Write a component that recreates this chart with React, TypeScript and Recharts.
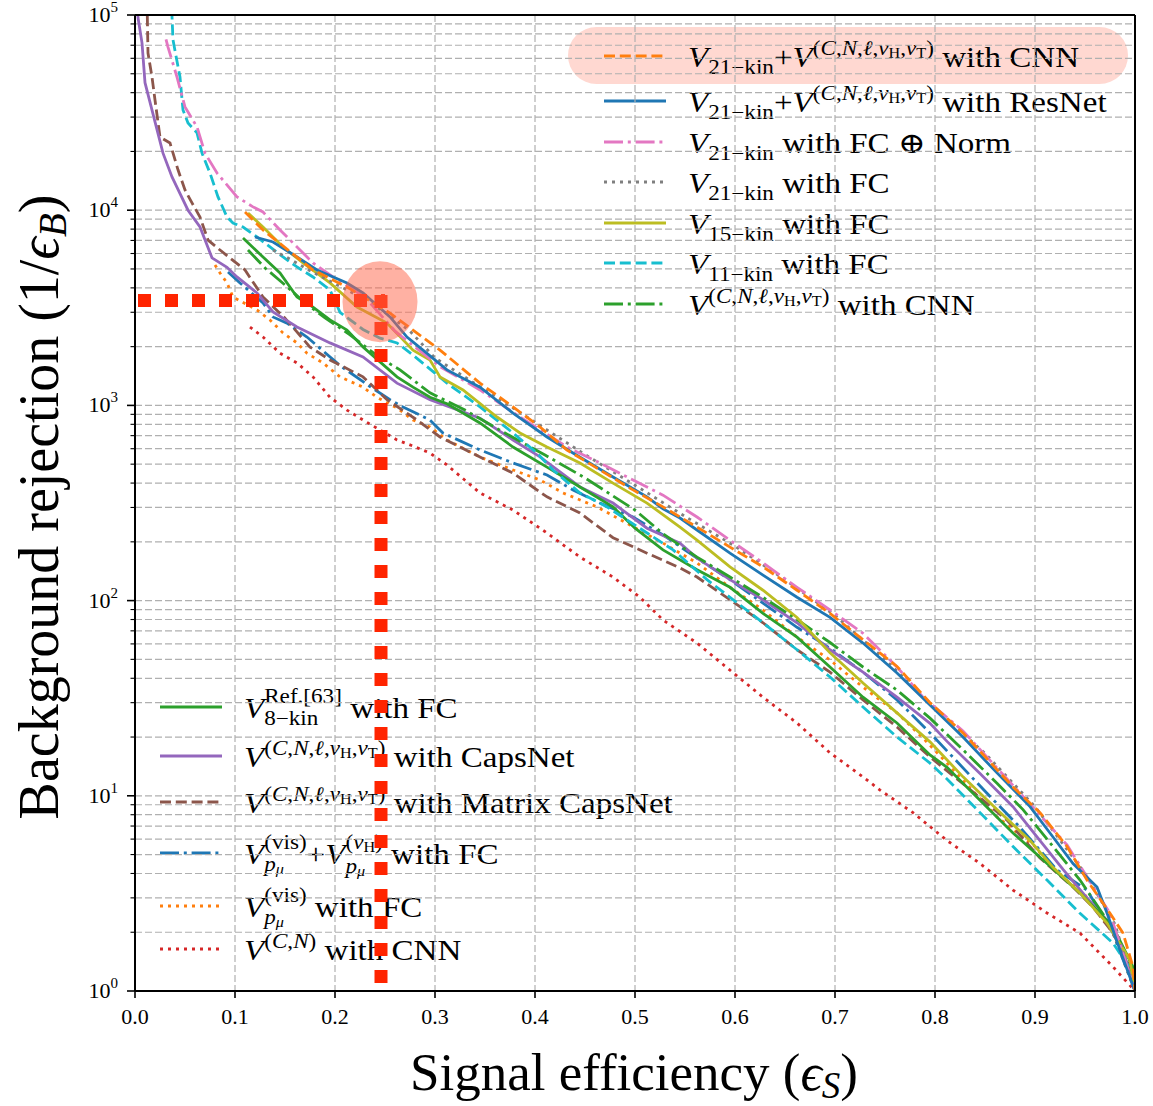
import React from 'react'
import { ComposedChart, Line, XAxis, YAxis, CartesianGrid, ReferenceLine } from 'recharts'

type Pt = [number, number]

// ROC curves: [signal efficiency, background rejection]
const cnnCombined: Pt[] = [[0.11, 9790], [0.128, 7920], [0.178, 4940], [0.212, 4040], [0.255, 2970], [0.278, 2430], [0.305, 1920], [0.345, 1300], [0.378, 982], [0.405, 775], [0.432, 591], [0.465, 467], [0.498, 369], [0.528, 302], [0.562, 238], [0.595, 188], [0.628, 149], [0.662, 113], [0.695, 86], [0.728, 63], [0.762, 46], [0.795, 30], [0.828, 21], [0.878, 11.1], [0.905, 8.2], [0.932, 5.5], [0.952, 3.7], [0.975, 2.5], [0.988, 1.98], [0.998, 1.33], [1, 1]]
const resNet: Pt[] = [[0.12, 7290], [0.138, 6870], [0.162, 5760], [0.182, 4940], [0.212, 4240], [0.228, 3770], [0.255, 2840], [0.272, 2240], [0.288, 1920], [0.312, 1520], [0.345, 1240], [0.378, 914], [0.412, 689], [0.438, 570], [0.478, 430], [0.512, 340], [0.528, 295], [0.545, 265], [0.562, 230], [0.595, 175], [0.628, 135], [0.662, 104], [0.695, 82], [0.728, 60.6], [0.762, 42.6], [0.795, 29.2], [0.828, 20], [0.862, 13.1], [0.895, 8.8], [0.918, 6.15], [0.938, 4.5], [0.962, 3.41], [0.972, 2.51], [0.985, 1.62], [1, 1]]
const kin21Norm: Pt[] = [[0.031, 75000], [0.033, 68500], [0.042, 48100], [0.05, 33800], [0.062, 26700], [0.07, 19600], [0.082, 15500], [0.102, 11700], [0.118, 10400], [0.128, 9790], [0.145, 7920], [0.162, 6480], [0.178, 5370], [0.198, 4550], [0.23, 3590], [0.26, 2400], [0.285, 1900], [0.305, 1580], [0.345, 1200], [0.385, 872], [0.432, 612], [0.465, 507], [0.492, 430], [0.528, 347], [0.562, 268], [0.595, 204], [0.628, 156], [0.662, 117], [0.695, 89.5], [0.728, 68], [0.762, 45.7], [0.788, 32], [0.828, 21.5], [0.878, 11.3], [0.932, 5.6], [0.975, 2.5], [1, 1]]
const kin21: Pt[] = [[0.138, 6250], [0.15, 5800], [0.175, 4900], [0.2, 4200], [0.225, 3600], [0.25, 3000], [0.275, 2400], [0.3, 1750], [0.35, 1200], [0.4, 820], [0.45, 560], [0.5, 390], [0.55, 270], [0.6, 190], [0.65, 128], [0.7, 84], [0.75, 50], [0.8, 28], [0.85, 16.5], [0.9, 8.8], [0.95, 4.0], [0.98, 2.2], [1, 1]]
const kin15: Pt[] = [[0.113, 9680], [0.128, 8200], [0.148, 6480], [0.168, 5370], [0.195, 4240], [0.222, 3190], [0.252, 2640], [0.278, 1920], [0.295, 1710], [0.305, 1400], [0.328, 1200], [0.362, 872], [0.385, 722], [0.412, 612], [0.445, 507], [0.478, 400], [0.512, 316], [0.545, 238], [0.562, 204], [0.595, 149], [0.628, 113], [0.662, 82], [0.695, 54], [0.728, 37.8], [0.762, 26.6], [0.795, 18.9], [0.828, 12.5], [0.862, 8.5], [0.895, 5.9], [0.918, 4.3], [0.945, 3.18], [0.972, 2.23], [0.995, 1.44], [1, 1]]
const kin11: Pt[] = [[0.036, 130000], [0.038, 74500], [0.045, 48100], [0.048, 32600], [0.053, 28000], [0.062, 24900], [0.067, 19600], [0.075, 15500], [0.083, 11700], [0.092, 9230], [0.098, 8590], [0.108, 8200], [0.122, 7290], [0.135, 6480], [0.148, 5760], [0.162, 5120], [0.178, 4550], [0.195, 3900], [0.205, 3000], [0.228, 2450], [0.245, 2210], [0.262, 2090], [0.278, 1810], [0.312, 1300], [0.345, 982], [0.378, 722], [0.402, 570], [0.418, 467], [0.445, 356], [0.472, 302], [0.495, 253], [0.538, 182], [0.572, 128], [0.595, 104], [0.628, 77], [0.662, 56], [0.695, 40.6], [0.728, 28.5], [0.762, 20], [0.795, 14.7], [0.812, 12.2], [0.845, 8.2], [0.878, 5.5], [0.912, 3.7], [0.945, 2.5], [0.978, 1.76], [0.998, 1.24], [1, 1]]
const cnnCNL: Pt[] = [[0.113, 6250], [0.13, 5060], [0.15, 4140], [0.17, 3350], [0.19, 2810], [0.215, 2300], [0.245, 1750], [0.265, 1520], [0.295, 1160], [0.33, 946], [0.37, 722], [0.41, 557], [0.45, 425], [0.5, 291], [0.528, 220], [0.562, 167], [0.595, 132], [0.628, 104], [0.662, 80], [0.695, 61], [0.728, 45.7], [0.762, 34.8], [0.795, 25], [0.828, 17.2], [0.862, 11.6], [0.888, 8.5], [0.918, 5.5], [0.945, 3.7], [0.972, 2.31], [0.995, 1.44], [1, 1]]
const kin8Ref: Pt[] = [[0.108, 7200], [0.128, 5760], [0.145, 4770], [0.162, 3590], [0.178, 3190], [0.195, 2740], [0.212, 2430], [0.228, 1990], [0.245, 1670], [0.262, 1400], [0.278, 1240], [0.295, 1100], [0.312, 1020], [0.345, 813], [0.378, 612], [0.412, 483], [0.445, 382], [0.478, 302], [0.5, 235], [0.528, 182], [0.562, 144], [0.595, 117], [0.628, 86], [0.662, 65], [0.695, 45.7], [0.728, 32], [0.762, 23.6], [0.795, 16.2], [0.812, 14], [0.845, 9.5], [0.878, 6.45], [0.912, 4.5], [0.945, 3.18], [0.978, 2.13], [0.998, 1.33], [1, 1]]
const capsNet: Pt[] = [[0.002, 120000], [0.003, 97000], [0.007, 72000], [0.01, 45000], [0.028, 19600], [0.037, 14800], [0.053, 10000], [0.065, 8200], [0.077, 5700], [0.092, 5100], [0.102, 4550], [0.122, 3770], [0.138, 3010], [0.162, 2520], [0.195, 2090], [0.228, 1770], [0.262, 1300], [0.295, 1070], [0.345, 860], [0.378, 665], [0.405, 545], [0.445, 382], [0.478, 316], [0.512, 235], [0.545, 197], [0.562, 165], [0.595, 128], [0.628, 101], [0.662, 77], [0.695, 56], [0.728, 43], [0.762, 32], [0.795, 23.5], [0.812, 19], [0.845, 13], [0.878, 8.8], [0.905, 5.9], [0.928, 4.2], [0.952, 3.0], [0.972, 2.3], [0.988, 1.62], [1, 1]]
const matrixCapsNet: Pt[] = [[0.012, 120000], [0.013, 63800], [0.017, 48100], [0.02, 36700], [0.025, 23700], [0.035, 22100], [0.043, 16100], [0.05, 12700], [0.057, 10900], [0.065, 9230], [0.073, 7030], [0.085, 6250], [0.095, 5690], [0.11, 4940], [0.128, 3590], [0.15, 2800], [0.175, 1990], [0.195, 1710], [0.228, 1400], [0.252, 1070], [0.282, 842], [0.305, 689], [0.345, 544], [0.378, 450], [0.412, 340], [0.445, 281], [0.478, 210], [0.512, 175], [0.545, 147], [0.562, 132], [0.595, 101], [0.628, 77], [0.662, 56], [0.695, 43], [0.728, 31], [0.762, 22.5], [0.795, 15.8], [0.832, 11.1], [0.872, 7.5], [0.905, 4.8], [0.938, 3.41], [0.958, 2.69], [0.978, 1.98], [0.998, 1.24], [1, 1]]
const visNuH: Pt[] = [[0.093, 4820], [0.105, 4240], [0.128, 3350], [0.138, 2840], [0.152, 2640], [0.172, 2240], [0.205, 1600], [0.235, 1250], [0.255, 1070], [0.268, 982], [0.295, 842], [0.308, 722], [0.345, 591], [0.378, 507], [0.412, 440], [0.438, 369], [0.465, 316], [0.498, 268], [0.528, 217], [0.562, 165], [0.595, 128], [0.628, 97], [0.662, 73], [0.695, 57], [0.728, 43], [0.762, 31], [0.795, 21], [0.852, 10.3], [0.885, 6.9], [0.922, 4.17], [0.952, 3.29], [0.978, 1.98], [1, 1]]
const vis: Pt[] = [[0.08, 5240], [0.085, 4770], [0.092, 4240], [0.098, 3590], [0.122, 3080], [0.135, 2740], [0.148, 2350], [0.162, 2090], [0.172, 1850], [0.188, 1650], [0.205, 1400], [0.228, 1240], [0.242, 1100], [0.262, 970], [0.278, 842], [0.295, 775], [0.312, 665], [0.345, 544], [0.378, 467], [0.405, 415], [0.428, 356], [0.462, 302], [0.495, 244], [0.528, 197], [0.562, 156], [0.595, 117], [0.628, 89.5], [0.662, 65], [0.695, 49.6], [0.728, 36], [0.762, 26.6], [0.79, 19.3], [0.812, 14.7], [0.862, 7.8], [0.9, 5.5], [0.918, 4.2], [0.95, 3.1], [0.978, 1.98], [1, 1]]
const cnCNN: Pt[] = [[0.115, 2520], [0.128, 2240], [0.145, 1850], [0.162, 1650], [0.178, 1400], [0.195, 1100], [0.212, 946], [0.228, 842], [0.245, 748], [0.262, 665], [0.278, 619], [0.295, 570], [0.312, 495], [0.345, 356], [0.378, 291], [0.412, 222], [0.445, 167], [0.478, 132], [0.505, 104], [0.528, 79.6], [0.562, 60.6], [0.595, 44], [0.628, 32], [0.662, 23.6], [0.695, 16.6], [0.728, 12.5], [0.745, 10.7], [0.778, 8.2], [0.812, 5.9], [0.845, 4.5], [0.878, 3.29], [0.912, 2.51], [0.945, 1.98], [0.978, 1.33], [1, 1]]

// working point highlight
const workingPoint: Pt[] = [[0.245, 3400]]
const markerRow: Pt[] = [[0.003, 3450], [0.25, 3450]]
const markerCol: Pt[] = [[0.246, 3680], [0.246, 1]]

const X_TICKS = [0, 0.1, 0.2, 0.3, 0.4, 0.5, 0.6, 0.7, 0.8, 0.9, 1.0]
const Y_DECADES = [1, 10, 100, 1000, 10000, 100000]
const Y_TICKS = [1, 10, 100, 1000, 10000].flatMap((d) => [1, 2, 3, 4, 5, 6, 7, 8, 9].map((m) => m * d)).concat([100000])

const SERIF = '"Liberation Serif", "DejaVu Serif", serif'
const LW = 2.8
const SOLID = undefined
const DASHED = '11 4.8'
const DASHDOT = '19 4.8 3 4.8'
const DOTTED = '3 5'

const C = {
  blue: '#1f77b4', orange: '#ff7f0e', green: '#2ca02c', red: '#d62728', purple: '#9467bd',
  brown: '#8c564b', pink: '#e377c2', grey: '#7f7f7f', olive: '#bcbd22', cyan: '#17becf',
}

const toRows = (pts: Pt[]) => pts.map(([x, y]) => ({ x, y }))

const SERIES = [
  { name: 'cnCNN', data: cnCNN, color: C.red, dash: DOTTED },
  { name: 'vis', data: vis, color: C.orange, dash: DOTTED },
  { name: 'visNuH', data: visNuH, color: C.blue, dash: DASHDOT },
  { name: 'matrixCapsNet', data: matrixCapsNet, color: C.brown, dash: DASHED },
  { name: 'capsNet', data: capsNet, color: C.purple, dash: SOLID },
  { name: 'kin8Ref', data: kin8Ref, color: C.green, dash: SOLID },
  { name: 'cnnCNL', data: cnnCNL, color: C.green, dash: DASHDOT },
  { name: 'kin11', data: kin11, color: C.cyan, dash: DASHED },
  { name: 'kin15', data: kin15, color: C.olive, dash: SOLID },
  { name: 'kin21', data: kin21, color: C.grey, dash: DOTTED },
  { name: 'kin21Norm', data: kin21Norm, color: C.pink, dash: DASHDOT },
  { name: 'resNet', data: resNet, color: C.blue, dash: SOLID },
  { name: 'cnnCombined', data: cnnCombined, color: C.orange, dash: DASHED },
]

const PLOT = { left: 135, right: 1135, top: 15, bottom: 991 }

function XTick(props: any) {
  const { x, payload } = props
  return (
    <g>
      <line x1={x} x2={x} y1={PLOT.bottom} y2={PLOT.bottom + 7} stroke="#000" strokeWidth={1.6} />
      <text x={x} y={PLOT.bottom + 33} textAnchor="middle" fontFamily={SERIF} fontSize={22} fill="#000">
        {Number(payload.value).toFixed(1)}
      </text>
    </g>
  )
}

function YTick(props: any) {
  const { y, payload } = props
  const v = payload.value as number
  const major = Y_DECADES.includes(v)
  return (
    <g>
      <line x1={PLOT.left} x2={PLOT.left - (major ? 8 : 4.5)} y1={y} y2={y} stroke="#000" strokeWidth={major ? 1.6 : 1.1} />
      {major && (
        <text x={PLOT.left - 17} y={y + 7} textAnchor="end" fontFamily={SERIF} fontSize={22} fill="#000">
          10<tspan dy={-10} fontSize={15}>{Math.round(Math.log10(v))}</tspan>
        </text>
      )}
    </g>
  )
}

// math helpers for legend labels
const I = ({ children }: { children: React.ReactNode }) => <span style={{ fontStyle: 'italic' }}>{children}</span>
const Sub = ({ children, dy = 7 }: { children: React.ReactNode; dy?: number }) => (
  <span style={{ fontSize: '0.7em', position: 'relative', top: dy }}>{children}</span>
)
const Sup = ({ children, dy = -12 }: { children: React.ReactNode; dy?: number }) => (
  <span style={{ fontSize: '0.7em', position: 'relative', top: dy }}>{children}</span>
)
const Stack = ({ sup, sub }: { sup: React.ReactNode; sub: React.ReactNode }) => (
  <span style={{ display: 'inline-flex', flexDirection: 'column', fontSize: '0.7em', lineHeight: '22px', position: 'relative', top: -15 }}>
    <span>{sup}</span>
    <span>{sub}</span>
  </span>
)
const Kin = ({ n }: { n: string }) => <><I>V</I><Sub>{n}−kin</Sub></>
const Full = () => (
  <><I>V</I><Sup>(<I>C</I>,<I>N</I>,<I>ℓ</I>,<I>ν</I><Sub dy={3}>H</Sub>,<I>ν</I><Sub dy={3}>T</Sub>)</Sup></>
)
const Pmu = () => <><I>p</I><Sub dy={3}><I>μ</I></Sub></>

const UPPER_LEGEND = [
  { y: 56, color: C.orange, dash: DASHED, label: <><Kin n="21" />+<Full /> with CNN</> },
  { y: 101, color: C.blue, dash: SOLID, label: <><Kin n="21" />+<Full /> with ResNet</> },
  { y: 142, color: C.pink, dash: DASHDOT, label: <><Kin n="21" /> with FC ⊕ Norm</> },
  { y: 182, color: C.grey, dash: DOTTED, label: <><Kin n="21" /> with FC</> },
  { y: 223, color: C.olive, dash: SOLID, label: <><Kin n="15" /> with FC</> },
  { y: 263, color: C.cyan, dash: DASHED, label: <><Kin n="11" /> with FC</> },
  { y: 304, color: C.green, dash: DASHDOT, label: <><Full /> with CNN</> },
]

const LOWER_LEGEND = [
  { y: 707, color: C.green, dash: SOLID, label: <><I>V</I><Stack sup="Ref.[63]" sub="8−kin" /> with FC</> },
  { y: 756, color: C.purple, dash: SOLID, label: <><Full /> with CapsNet</> },
  { y: 802, color: C.brown, dash: DASHED, label: <><Full /> with Matrix CapsNet</> },
  { y: 853, color: C.blue, dash: DASHDOT, label: <><I>V</I><Stack sup="(vis)" sub={<Pmu />} />+<I>V</I><Stack sup={<>(<I>ν</I><Sub dy={3}>H</Sub>)</>} sub={<Pmu />} /> with FC</> },
  { y: 906, color: C.orange, dash: DOTTED, label: <><I>V</I><Stack sup="(vis)" sub={<Pmu />} /> with FC</> },
  { y: 949, color: C.red, dash: DOTTED, label: <><I>V</I><Sup>(<I>C</I>,<I>N</I>)</Sup> with CNN</> },
]

type Entry = { y: number; color: string; dash?: string; label: React.ReactNode }

function LegendBlock({ entries, lineX, textX }: { entries: Entry[]; lineX: number; textX: number }) {
  return (
    <>
      {entries.map((e, i) => (
        <React.Fragment key={i}>
          <svg style={{ position: 'absolute', left: lineX, top: e.y - 5 }} width={62} height={10}>
            <line x1={0} x2={62} y1={5} y2={5} stroke={e.color} strokeWidth={LW} strokeDasharray={e.dash} />
          </svg>
          <div style={{
            position: 'absolute', left: textX, top: e.y + 10.5 - 26, lineHeight: '33px', fontSize: 29,
            fontFamily: SERIF, whiteSpace: 'nowrap', color: '#000', transform: 'scaleX(1.14)', transformOrigin: '0 0',
          }}>
            {e.label}
          </div>
        </React.Fragment>
      ))}
    </>
  )
}

function Backdrop() {
  return (
    <div style={{ position: 'absolute', left: 0, top: 0, width: 1153, height: 1106, zIndex: 0 }}>
      <svg style={{ position: 'absolute', left: 0, top: 0 }} width={1153} height={1106}>
        <rect x={568} y={27} width={560} height={57} rx={28.5} fill="#ff6347" fillOpacity={0.25} />
        <text x={634} y={1090} textAnchor="middle" fontFamily={SERIF} fontSize={53} fill="#000">
          Signal efficiency (<tspan fontStyle="italic">ϵ</tspan>
          <tspan fontStyle="italic" fontSize={37} dy={8}>S</tspan>
          <tspan dy={-8}>)</tspan>
        </text>
        <text transform="translate(58,507) rotate(-90)" textAnchor="middle" fontFamily={SERIF} fontSize={56} fill="#000">
          Background rejection (1/<tspan fontStyle="italic">ϵ</tspan>
          <tspan fontStyle="italic" fontSize={39} dy={8}>B</tspan>
          <tspan dy={-8}>)</tspan>
        </text>
      </svg>
      <LegendBlock entries={UPPER_LEGEND} lineX={604} textX={688} />
      <LegendBlock entries={LOWER_LEGEND} lineX={160} textX={244} />
    </div>
  )
}

function RocChart() {
  return (
    <ComposedChart width={1153} height={1106} margin={{ top: 15, right: 18, bottom: 0, left: 0 }}>
      <CartesianGrid stroke="#b0b0b0" strokeWidth={1.2} strokeDasharray="7 3" />
      <XAxis type="number" dataKey="x" domain={[0, 1]} ticks={X_TICKS} interval={0} height={115}
        allowDataOverflow tick={XTick} tickLine={false} axisLine={false} />
      <YAxis type="number" dataKey="y" scale="log" domain={[1, 100000]} ticks={Y_TICKS} interval={0} width={135}
        allowDataOverflow tick={YTick} tickLine={false} axisLine={false} />
      {SERIES.map((s) => (
        <Line key={s.name} data={toRows(s.data)} dataKey="y" type="linear" stroke={s.color} strokeWidth={LW}
          strokeDasharray={s.dash} dot={false} activeDot={false} isAnimationActive={false} />
      ))}
      <Line data={toRows(workingPoint)} dataKey="y" stroke="none" isAnimationActive={false} activeDot={false}
        dot={(p: any) => <ellipse key="wp" cx={p.cx} cy={p.cy} rx={37.5} ry={40.5} fill="#ff6347" fillOpacity={0.5} />} />
      <Line data={toRows(markerRow)} dataKey="y" stroke="#ff2400" strokeWidth={13} strokeDasharray="13 14"
        dot={false} activeDot={false} isAnimationActive={false} />
      <Line data={toRows(markerCol)} dataKey="y" stroke="#ff2400" strokeWidth={13} strokeDasharray="13 14"
        dot={false} activeDot={false} isAnimationActive={false} />
      <ReferenceLine x={0} stroke="#000" strokeWidth={2} />
      <ReferenceLine x={1} stroke="#000" strokeWidth={2} />
      <ReferenceLine y={1} stroke="#000" strokeWidth={2} />
      <ReferenceLine y={100000} stroke="#000" strokeWidth={2} />
    </ComposedChart>
  )
}

export default function App() {
  return (
    <div style={{ position: 'relative', width: 1153, height: 1106, background: '#fff' }}>
      <style>{'body{margin:0}'}</style>
      <Backdrop />
      <div style={{ position: 'absolute', left: 0, top: 0, zIndex: 1 }}>
        <RocChart />
      </div>
    </div>
  )
}
